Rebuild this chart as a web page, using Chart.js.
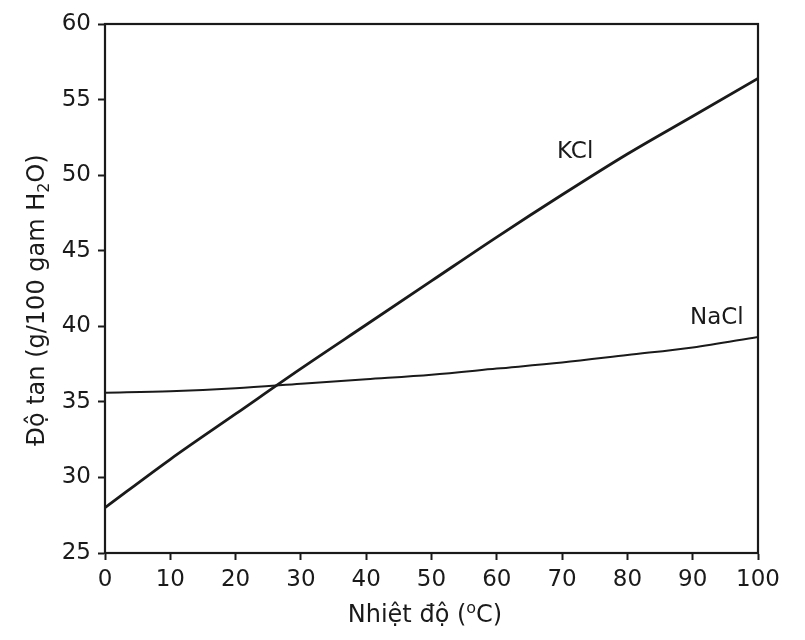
<!DOCTYPE html>
<html>
<head>
<meta charset="utf-8">
<script src="https://cdn.jsdelivr.net/npm/chart.js@4/dist/chart.umd.min.js"></script>
<style>
  html, body { margin: 0; padding: 0; background: #fff; }
  #wrap { width: 805px; height: 640px; }
</style>
</head>
<body>
<div id="wrap"><canvas id="chart" width="805" height="640"></canvas></div>
<script>
// dữ liệu
const temperatures = [0, 10, 20, 30, 40, 50, 60, 70, 80, 90, 100];
const kclValues = [28.0, 31.2, 34.2, 37.2, 40.1, 43.0, 45.9, 48.7, 51.4, 53.9, 56.4];
const naclValues = [35.6, 35.7, 35.9, 36.2, 36.5, 36.8, 37.2, 37.6, 38.1, 38.6, 39.3];
const xTicks = [0, 10, 20, 30, 40, 50, 60, 70, 80, 90, 100];
const yTicks = [25, 30, 35, 40, 45, 50, 55, 60];

const FONT = '"DejaVu Sans", Arial, sans-serif';
const INK = '#1a1a1a';

// nhãn tên chất trên đồ thị
const seriesLabels = [
    { text: 'KCl', x: 72, y: 51.5 },
    { text: 'NaCl', x: 93.7, y: 40.55 }
];

// khung, nhãn và tên trục
const decorPlugin = {
    id: 'decor',
    afterDraw(chart) {
        const ctx = chart.ctx;
        const a = chart.chartArea;
        const xs = chart.scales.x, ys = chart.scales.y;
        ctx.save();
        ctx.strokeStyle = INK;
        ctx.lineWidth = 2.2;
        ctx.strokeRect(a.left, a.top, a.right - a.left, a.bottom - a.top);

        ctx.fillStyle = INK;
        ctx.font = '23px ' + FONT;
        ctx.textAlign = 'center';
        ctx.textBaseline = 'middle';
        seriesLabels.forEach(l => {
            ctx.fillText(l.text, xs.getPixelForValue(l.x), ys.getPixelForValue(l.y));
        });

        // tên trục x: Nhiệt độ (ºC)
        ctx.textAlign = 'left';
        ctx.textBaseline = 'alphabetic';
        const p1 = 'Nhiệt độ (', p2 = 'o', p3 = 'C)';
        ctx.font = '24px ' + FONT;
        const w1 = ctx.measureText(p1).width;
        const w3 = ctx.measureText(p3).width;
        ctx.font = '16px ' + FONT;
        const w2 = ctx.measureText(p2).width;
        let x0 = 425 - (w1 + w2 + w3) / 2;
        const base = 622;
        ctx.font = '24px ' + FONT;
        ctx.fillText(p1, x0, base);
        ctx.font = '16px ' + FONT;
        ctx.fillText(p2, x0 + w1, base - 9);
        ctx.font = '24px ' + FONT;
        ctx.fillText(p3, x0 + w1 + w2, base);

        // tên trục y: Độ tan (g/100 gam H2O)
        ctx.translate(44, 300);
        ctx.rotate(-Math.PI / 2);
        const q1 = 'Độ tan (g/100 gam H', q2 = '2', q3 = 'O)';
        ctx.font = '24px ' + FONT;
        const v1 = ctx.measureText(q1).width;
        const v3 = ctx.measureText(q3).width;
        ctx.font = '16px ' + FONT;
        const v2 = ctx.measureText(q2).width;
        let y0 = -(v1 + v2 + v3) / 2;
        ctx.font = '24px ' + FONT;
        ctx.fillText(q1, y0, 0);
        ctx.font = '16px ' + FONT;
        ctx.fillText(q2, y0 + v1, 5);
        ctx.font = '24px ' + FONT;
        ctx.fillText(q3, y0 + v1 + v2, 0);
        ctx.restore();
    }
};

function makeSeries(values, width) {
    return {
        data: temperatures.map((t, i) => ({ x: t, y: values[i] })),
        borderColor: INK,
        borderWidth: width,
        pointRadius: 0,
        cubicInterpolationMode: 'monotone',
        fill: false
    };
}

new Chart(document.getElementById('chart'), {
    type: 'line',
    data: {
        datasets: [makeSeries(kclValues, 2.8), makeSeries(naclValues, 2)]
    },
    options: {
        responsive: false,
        animation: false,
        events: [],
        layout: { padding: { left: 0, right: 47, top: 24, bottom: 0 } },
        plugins: { legend: { display: false }, tooltip: { enabled: false } },
        scales: {
            x: {
                type: 'linear',
                min: 0,
                max: 100,
                afterBuildTicks: s => { s.ticks = xTicks.map(v => ({ value: v })); },
                afterFit: s => { s.height = 87; },
                grid: { drawOnChartArea: false, tickLength: 7, tickColor: INK, tickWidth: 2 },
                border: { color: INK, width: 2 },
                ticks: { color: INK, font: { family: FONT, size: 23 }, padding: 6, maxRotation: 0 }
            },
            y: {
                min: 25,
                max: 60,
                afterBuildTicks: s => { s.ticks = yTicks.map(v => ({ value: v })); },
                afterFit: s => { s.width = 105; },
                grid: { drawOnChartArea: false, tickLength: 7, tickColor: INK, tickWidth: 2 },
                border: { color: INK, width: 2 },
                ticks: { color: INK, font: { family: FONT, size: 23 }, padding: 7 }
            }
        }
    },
    plugins: [decorPlugin]
});
</script>
</body>
</html>
